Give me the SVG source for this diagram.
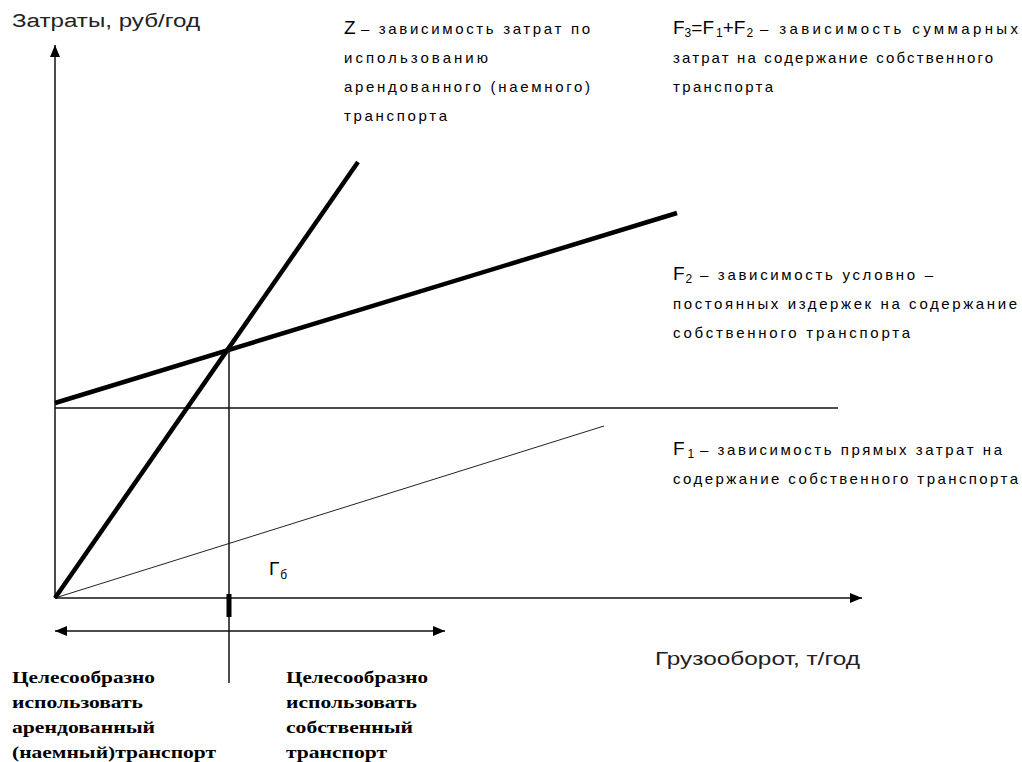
<svg xmlns="http://www.w3.org/2000/svg" width="1022" height="762" viewBox="0 0 1022 762">
<defs>
<style>
.ax{font-family:"Liberation Sans",Arial,sans-serif;font-size:18px;fill:#222}
.lb{font-family:"Liberation Sans",Arial,sans-serif;font-size:15px;fill:#000}
.big{font-size:19px}
.sub{font-size:12px}
.bd{font-family:"Liberation Serif","Times New Roman",serif;font-size:16px;font-weight:bold;fill:#000}
.thin{stroke:#111;stroke-width:1.5;fill:none}
.thick{stroke:#000;stroke-width:4.5;fill:none}
</style>
<marker id="ah" viewBox="0 0 12 10" refX="12" refY="5" markerWidth="12" markerHeight="10" markerUnits="userSpaceOnUse" orient="auto-start-reverse">
<path d="M0,0 L12,5 L0,10 z" fill="#000"/>
</marker>
</defs>
<rect width="1022" height="762" fill="#fff"/>
<g id="connectors">
<line id="y-axis" class="thin" x1="55" y1="598" x2="55" y2="45" marker-end="url(#ah)"/>
<line id="x-axis" class="thin" x1="55" y1="598" x2="862" y2="598" marker-end="url(#ah)"/>
<line id="line-F2" class="thin" x1="55" y1="408" x2="838" y2="408"/>
<line id="line-F1" stroke="#222" stroke-width="1" x1="55" y1="598" x2="604" y2="426"/>
<line id="line-Z" class="thick" x1="55" y1="598" x2="358" y2="162"/>
<line id="line-F3" class="thick" x1="55" y1="403" x2="677" y2="213"/>
<line id="break-even" class="thin" x1="229" y1="349" x2="229" y2="683"/>
<rect id="tick" x="226.5" y="594" width="5" height="23" fill="#000"/>
<line id="range-arrow" class="thin" x1="55" y1="631" x2="445" y2="631" marker-start="url(#ah)" marker-end="url(#ah)"/>
</g>
<g id="label-y-axis"><text class="ax" x="12" y="27" textLength="188" lengthAdjust="spacingAndGlyphs">Затраты, руб/год</text></g>
<g id="label-x-axis"><text class="ax" x="655" y="665" textLength="205" lengthAdjust="spacingAndGlyphs">Грузооборот, т/год</text></g>
<g id="label-Z">
<text class="lb big" x="344" y="34">Z</text>
<text class="lb" x="361" y="34" textLength="229" lengthAdjust="spacing">– зависимость затрат по</text>
<text class="lb" x="344" y="63" textLength="144" lengthAdjust="spacing">использованию</text>
<text class="lb" x="344" y="92" textLength="246" lengthAdjust="spacing">арендованного (наемного)</text>
<text class="lb" x="344" y="121" textLength="103" lengthAdjust="spacing">транспорта</text>
</g>
<g id="label-F3">
<text class="lb big" x="673" y="34">F<tspan class="sub" dy="3">3</tspan><tspan dy="-3">=F</tspan><tspan class="sub" dx="2" dy="3">1</tspan><tspan dy="-3">+F</tspan><tspan class="sub" dx="1" dy="3">2</tspan></text>
<text class="lb" x="760" y="34" textLength="258" lengthAdjust="spacing">– зависимость суммарных</text>
<text class="lb" x="673" y="63" textLength="320" lengthAdjust="spacing">затрат на содержание собственного</text>
<text class="lb" x="673" y="92" textLength="100" lengthAdjust="spacing">транспорта</text>
</g>
<g id="label-F2">
<text class="lb big" x="673" y="280">F<tspan class="sub" dx="1" dy="3">2</tspan></text>
<text class="lb" x="700" y="280" textLength="233" lengthAdjust="spacing">– зависимость условно –</text>
<text class="lb" x="673" y="309" textLength="344" lengthAdjust="spacing">постоянных издержек на содержание</text>
<text class="lb" x="673" y="338" textLength="237" lengthAdjust="spacing">собственного транспорта</text>
</g>
<g id="label-F1">
<text class="lb big" x="673" y="455">F<tspan class="sub" dx="3" dy="3">1</tspan></text>
<text class="lb" x="700" y="455" textLength="302" lengthAdjust="spacing">– зависимость прямых затрат на</text>
<text class="lb" x="673" y="484" textLength="345" lengthAdjust="spacing">содержание собственного транспорта</text>
</g>
<g id="label-Gb"><text class="lb big" x="269" y="575">Г<tspan class="sub" dx="1" dy="4">б</tspan></text></g>
<g id="label-rent">
<text class="bd" x="12" y="683" textLength="143" lengthAdjust="spacingAndGlyphs">Целесообразно</text>
<text class="bd" x="12" y="708" textLength="131" lengthAdjust="spacingAndGlyphs">использовать</text>
<text class="bd" x="12" y="733" textLength="143" lengthAdjust="spacingAndGlyphs">арендованный</text>
<text class="bd" x="12" y="758" textLength="204" lengthAdjust="spacingAndGlyphs">(наемный)транспорт</text>
</g>
<g id="label-own">
<text class="bd" x="286" y="683" textLength="142" lengthAdjust="spacingAndGlyphs">Целесообразно</text>
<text class="bd" x="286" y="708" textLength="131" lengthAdjust="spacingAndGlyphs">использовать</text>
<text class="bd" x="286" y="733" textLength="127" lengthAdjust="spacingAndGlyphs">собственный</text>
<text class="bd" x="286" y="758" textLength="101" lengthAdjust="spacingAndGlyphs">транспорт</text>
</g>
</svg>
